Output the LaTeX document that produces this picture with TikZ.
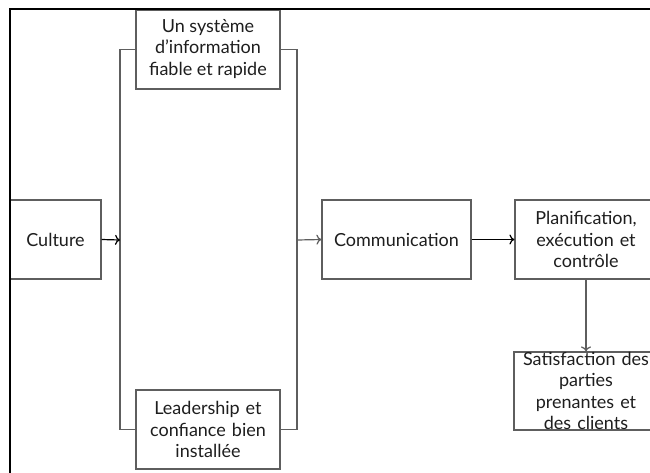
\documentclass[tikz,border=0pt]{standalone}
\usepackage{fontspec}
\setmainfont{Lato}
\usetikzlibrary{arrows.meta}
\definecolor{boxline}{HTML}{5E5E5E}
\definecolor{txt}{HTML}{1E1E1E}
\tikzset{
  box/.style={draw=boxline, line width=1.2pt, fill=white, align=center, text=txt,
    font=\fontsize{18}{21.5}\selectfont, inner sep=1pt, anchor=center},
  conn/.style={line width=1.2pt, draw=boxline},
  arr/.style={line width=1.2pt, -{To[length=5pt,width=10pt]}},
}
\begin{document}
\begin{tikzpicture}[x=1pt,y=-1pt]
\useasboundingbox (0,0) rectangle (650,472);
\begin{scope}
\clip (0,0) rectangle (650,472);
\fill[white] (0,0) rectangle (650,472);
% bracket
\coordinate (bl) at (120,240);
\coordinate (br) at (297,240);
\node[box, minimum width=144pt, minimum height=79pt] (sys) at (208,49.5)
  {\raisebox{-3pt}{\begin{tabular}{@{}c@{}}Un système\\d’information\\fiable et rapide\end{tabular}}};
\node[box, minimum width=144pt, minimum height=79pt, text width=142pt] (lead) at (208,429.5)
  {Leadership et\\confiance bien\\installée};
\draw[conn] (sys.west) -| (bl) |- (lead.west);
\draw[conn] (sys.east) -| (br) |- (lead.east);
\node[box, minimum width=91pt, minimum height=79pt] (cult) at (55.5,239.5) {Culture};
\node[box, minimum width=149pt, minimum height=79pt] (comm) at (396.5,239.5) {Communication};
\node[box, minimum width=142pt, minimum height=79pt, text width=140pt] (plan) at (586,239.5)
  {Planification,\\exécution et\\contrôle};
\node[box, minimum width=144pt, minimum height=78pt, text width=142pt, inner sep=0pt] (sat) at (586,391)
  {Satisfaction des\\parties\\prenantes et\\des clients};
\draw[arr, draw=black] (cult.east) -- (bl);
\draw[arr, draw=boxline] (br) -- (comm.west);
\draw[arr, draw=black] (comm.east) -- (plan.west);
\draw[arr, draw=boxline] (plan.south) -- (sat.north);
% frame
\draw[line width=2.5pt, black] (10,480) -- (10,9) -- (660,9);
\end{scope}
\end{tikzpicture}
\end{document}
